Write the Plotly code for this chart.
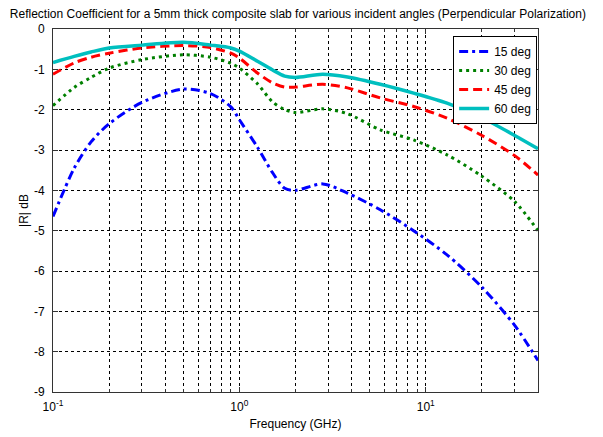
import plotly.graph_objects as go
import numpy as np

freq_ghz = [0.1, 0.13, 0.16, 0.2, 0.3, 0.5, 0.7, 0.9, 1.0, 1.25, 1.5, 1.75, 2.0,
            2.8, 3.8, 5.7, 8.6, 13, 20, 30, 40]

r15 = [-4.65, -3.45, -2.8, -2.35, -1.82, -1.49, -1.6, -1.93, -2.25, -2.93, -3.55, -3.95, -4.0,
       -3.84, -4.07, -4.48, -5.0, -5.6, -6.4, -7.35, -8.22]
r30 = [-1.9, -1.45, -1.2, -0.97, -0.76, -0.64, -0.7, -0.85, -0.97, -1.36, -1.8, -2.0, -2.07,
       -1.98, -2.1, -2.5, -2.75, -3.12, -3.65, -4.28, -5.0]
r45 = [-1.12, -0.84, -0.7, -0.6, -0.47, -0.41, -0.46, -0.6, -0.72, -1.09, -1.33, -1.44, -1.44,
       -1.37, -1.46, -1.71, -1.92, -2.21, -2.64, -3.14, -3.62]
r60 = [-0.83, -0.68, -0.57, -0.47, -0.4, -0.33, -0.4, -0.47, -0.55, -0.8, -1.01, -1.17, -1.2,
       -1.12, -1.19, -1.37, -1.59, -1.84, -2.2, -2.64, -2.97]

series_names = ["15 deg", "30 deg", "45 deg", "60 deg"]
series_vals = [r15, r30, r45, r60]
series_colors = ["#0000FF", "#008000", "#FF0000", "#00BFBF"]
series_dash = ["9px,4px,3px,4px", "3px,4px", "9px,5px", "solid"]
series_width = [3, 3, 3, 3.5]

x_major = [0.1, 1, 10]
x_major_text = ["10<sup>-1</sup>", "10<sup>0</sup>", "10<sup>1</sup>"]
x_minor = [0.2, 0.3, 0.4, 0.5, 0.6, 0.7, 0.8, 0.9, 2, 3, 4, 5, 6, 7, 8, 9, 20, 30]
y_ticks = [0, -1, -2, -3, -4, -5, -6, -7, -8, -9]
y_tick_text = ["0", "-1", "-2", "-3", "-4", "-5", "-6", "-7", "-8", "-9"]

FONT = "Liberation Sans, Arial, sans-serif"

fig = go.Figure()
for name, vals, col, dash, w in zip(series_names, series_vals, series_colors, series_dash, series_width):
    fig.add_trace(go.Scatter(
        x=freq_ghz, y=vals, mode="lines", name=name,
        line=dict(color=col, dash=dash, width=w, shape="spline", smoothing=0.8),
    ))

axis_common = dict(
    showline=True, linecolor="#333333", linewidth=1, mirror="ticks",
    ticks="inside", ticklen=5, tickcolor="#333333", automargin=False,
    showgrid=True, gridcolor="#000000", gridwidth=1, griddash="3px,3px",
    zeroline=False, tickfont=dict(family=FONT, size=12, color="#000000"),
)

fig.update_xaxes(
    type="log", range=[np.log10(0.1), np.log10(40)],
    tickvals=x_major, ticktext=x_major_text, ticklabelstandoff=4,
    minor=dict(tickvals=x_minor, showgrid=True, gridcolor="#000000", gridwidth=1,
               griddash="3px,3px", ticks="inside", ticklen=3, tickcolor="#333333"),
    title=dict(text="Frequency (GHz)", font=dict(family=FONT, size=12, color="#000000"), standoff=6),
    **axis_common,
)
fig.update_yaxes(
    range=[-9, 0], tickvals=y_ticks, ticktext=y_tick_text, ticklabelstandoff=5,
    title=dict(text="|R| dB", font=dict(family=FONT, size=12, color="#000000"), standoff=2),
    **axis_common,
)

fig.update_layout(
    width=603, height=437,
    margin=dict(l=53, r=65, t=29, b=45, autoexpand=False),
    paper_bgcolor="white", plot_bgcolor="white",
    title=dict(
        text="Reflection Coefficient for a 5mm thick composite slab for various incident angles (Perpendicular Polarization)",
        font=dict(family=FONT, size=12, color="#000000"),
        x=0.494, xanchor="center", y=0.968, yanchor="middle", xref="container", yref="container",
    ),
    legend=dict(
        x=0.825, y=0.981, xanchor="left", yanchor="top",
        bgcolor="white", bordercolor="#000000", borderwidth=1,
        font=dict(family=FONT, size=12, color="#000000"),
        itemwidth=30, tracegroupgap=0,
    ),
    showlegend=True,
)

fig.write_html("out.html")
